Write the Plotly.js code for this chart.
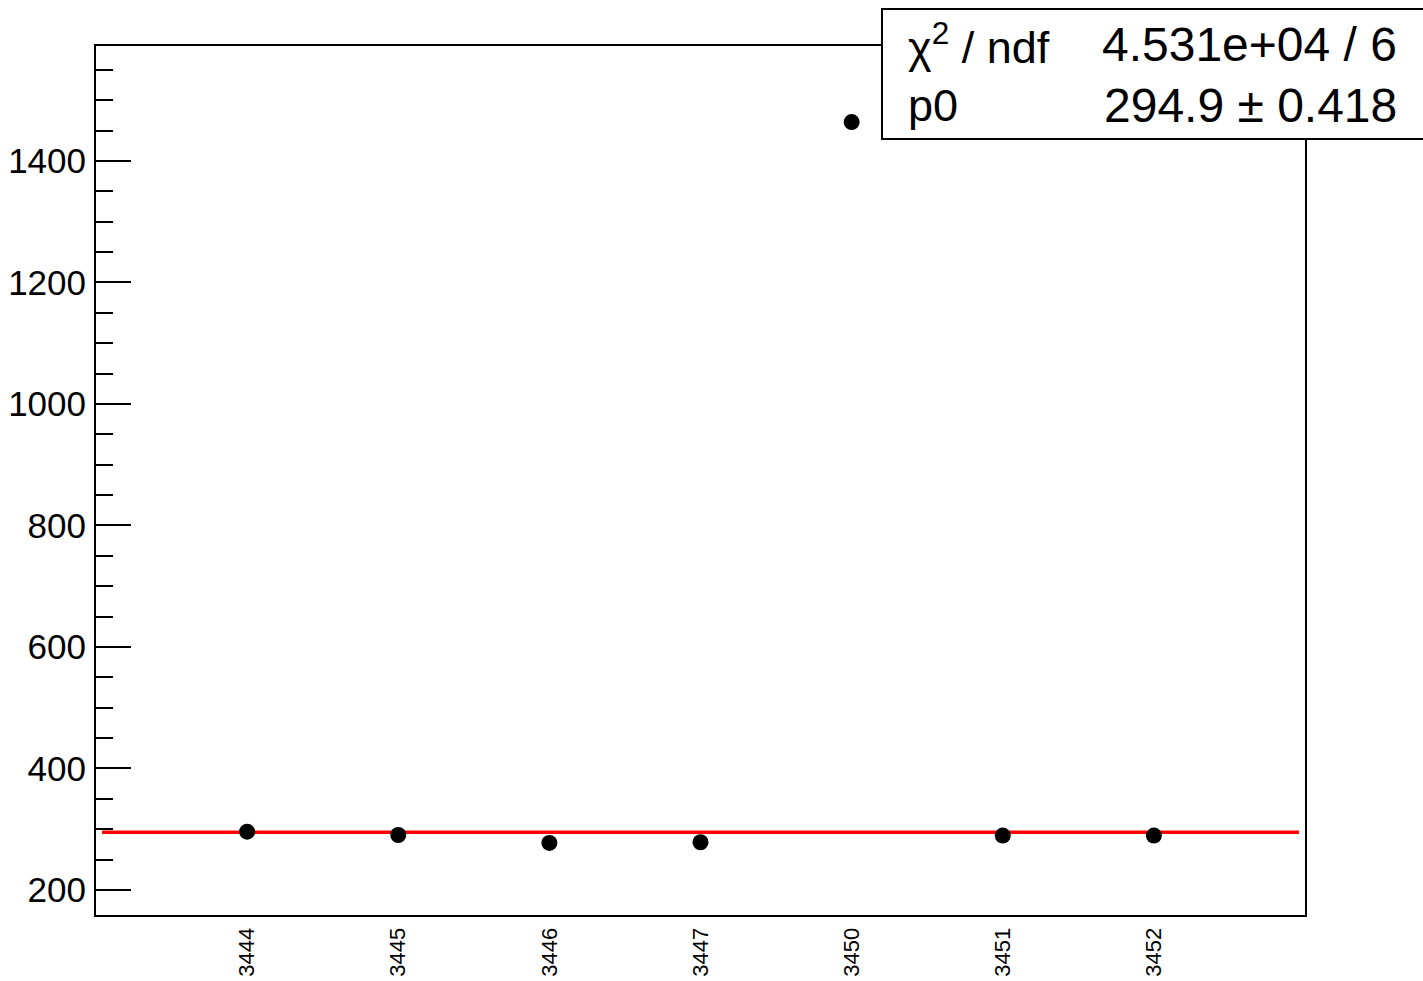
<!DOCTYPE html>
<html>
<head>
<meta charset="utf-8">
<script src="https://cdn.plot.ly/plotly-3.0.1.min.js"></script>
<style>html,body{margin:0;padding:0;background:#fff;}#chart{width:1423px;height:981px;}</style>
</head>
<body>
<div id="chart"></div>
<script>
// ---- data ----
var runs = ['3444', '3445', '3446', '3447', '3450', '3451', '3452'];
var values = [296, 290.5, 277.5, 278.5, 1464, 289.5, 289.5];
var fitP0 = 294.9;
var fitXRange = [0.04, 7.96];
var statLabels = ['χ<sup>2</sup> / ndf', 'p0'];
var statValues = ['4.531e+04 / 6', '294.9 ± 0.418'];
var yTicks = [200, 400, 600, 800, 1000, 1200, 1400];

var xPos = runs.map(function (r, i) { return i + 1; });

var traces = [
  {
    x: fitXRange, y: [fitP0, fitP0], mode: 'lines', type: 'scatter',
    line: { color: '#ff0000', width: 3.5 }, hoverinfo: 'skip', showlegend: false
  },
  {
    x: xPos, y: values, mode: 'markers', type: 'scatter',
    marker: { color: '#000', size: 16 }, showlegend: false
  }
];

var font = 'Liberation Sans, Arial, sans-serif';
var L = 96, R = 1305, T = 46, B = 915;
function px(x) { return (x - L) / (R - L); }
function py(y) { return (B - y) / (B - T); }

var annotations = [];
for (var i = 0; i < statLabels.length; i++) {
  var yc = [44, 105][i];
  annotations.push({
    xref: 'paper', yref: 'paper', x: px(906), y: py(yc), xanchor: 'left', yanchor: 'middle',
    text: statLabels[i], showarrow: false, font: { family: font, size: 45, color: '#000' }
  });
  annotations.push({
    xref: 'paper', yref: 'paper', x: px(1399), y: py(yc), xanchor: 'right', yanchor: 'middle',
    text: statValues[i], showarrow: false, font: { family: font, size: 48, color: '#000' }
  });
}

var layout = {
  width: 1423, height: 981,
  margin: { l: L, r: 1423 - R, t: T, b: 981 - B, pad: 0 },
  paper_bgcolor: '#fff', plot_bgcolor: '#fff',
  showlegend: false,
  xaxis: {
    range: [0, 8], tickvals: xPos, ticktext: runs, tickangle: -90,
    ticks: '', showgrid: false, zeroline: false,
    showline: true, linecolor: '#000', linewidth: 2, mirror: true,
    tickfont: { family: font, size: 22, color: '#000' }, ticklabelstandoff: 2
  },
  yaxis: {
    range: [158.8, 1589.3], tickvals: yTicks, ticks: 'inside', ticklen: 35, tickwidth: 2, tickcolor: '#000',
    minor: { dtick: 50, tick0: 0, ticks: 'inside', ticklen: 17, tickwidth: 2, tickcolor: '#000', showgrid: false },
    showgrid: false, zeroline: false,
    showline: true, linecolor: '#000', linewidth: 2, mirror: true,
    tickfont: { family: font, size: 35, color: '#000' }, ticklabelstandoff: 1
  },
  shapes: [
    {
      type: 'rect', xref: 'paper', yref: 'paper', layer: 'above',
      x0: px(882), x1: px(1440), y0: py(139), y1: py(9),
      fillcolor: '#fff', line: { color: '#000', width: 2 }
    }
  ],
  annotations: annotations
};

Plotly.newPlot('chart', traces, layout, { displayModeBar: false, staticPlot: true });
</script>
</body>
</html>
